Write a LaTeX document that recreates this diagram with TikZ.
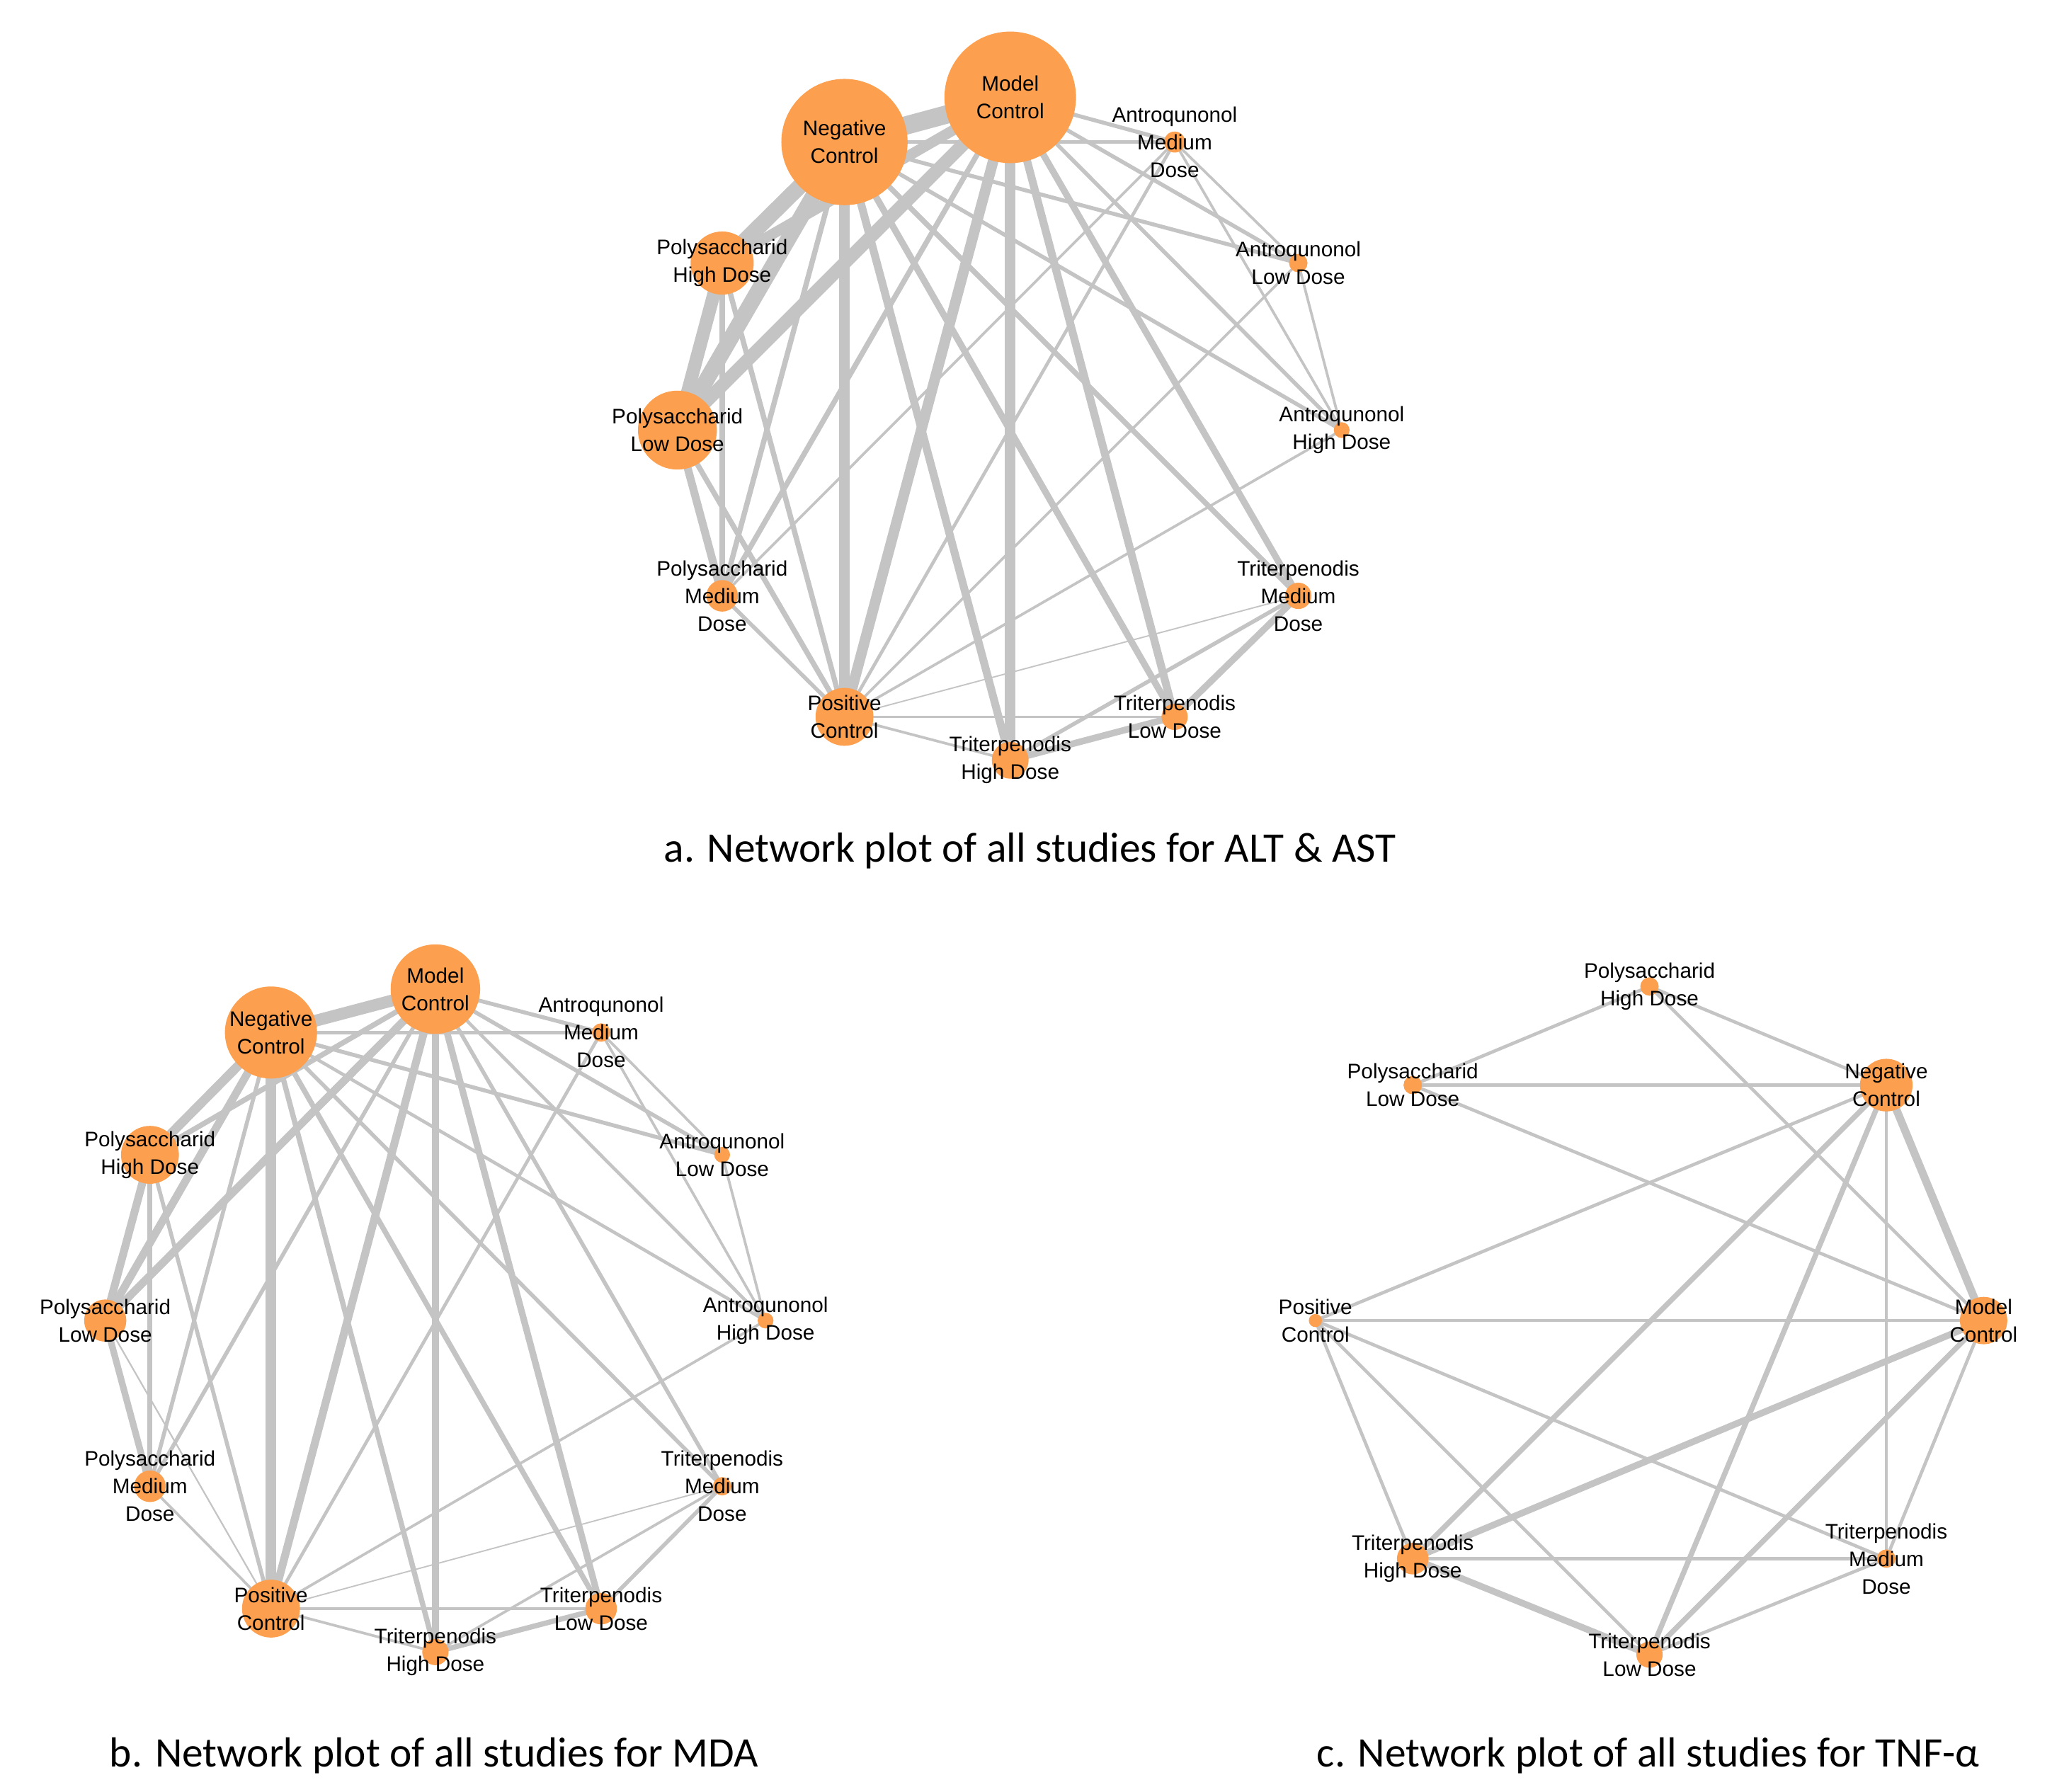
\documentclass[tikz,border=0pt]{standalone}
\usepackage{fontspec}
\setmainfont{Liberation Sans}
\newfontfamily\capf{Carlito}
\definecolor{edg}{RGB}{196,196,196}
\definecolor{org}{RGB}{252,160,80}
\newcommand\E[3]{\draw[edg,line width=#3pt] (#1) -- (#2);}
\begin{document}
\begin{tikzpicture}[x=1pt,y=-1pt,
  dot/.style={circle,fill=org,inner sep=0pt,minimum size=#1pt},
  lab/.style={align=center,font=\fontsize{16}{21}\selectfont,text=black},
  capt/.style={font=\capf\fontsize{32}{36}\selectfont}]
\useasboundingbox[fill=white] (0,0) rectangle (1560,1362);
% ---------- plot a ----------
\foreach \n/\x/\y in {NC/642/108,MC/768/74,AMD/893/108,ALD/987/200,AHD/1020/327,TMD/987/453,TLD/893/545,THD/768/578,PC/642/545,PMD/549/453,PLD/515/327,PHD/549/200}
  \coordinate (a\n) at (\x,\y);
\E{aNC}{aMC}{14}\E{aNC}{aPHD}{12}\E{aNC}{aPLD}{12}\E{aMC}{aPHD}{8}\E{aMC}{aPLD}{10}
\E{aPHD}{aPLD}{10}\E{aNC}{aPC}{8}\E{aMC}{aPC}{8}\E{aMC}{aTHD}{8}\E{aNC}{aTHD}{6}
\E{aNC}{aTLD}{5}\E{aMC}{aTLD}{6}\E{aMC}{aTMD}{5}\E{aNC}{aTMD}{4}\E{aNC}{aAMD}{3}
\E{aMC}{aAMD}{3}\E{aNC}{aALD}{3}\E{aMC}{aALD}{3}\E{aNC}{aAHD}{3}\E{aMC}{aAHD}{3}
\E{aNC}{aPMD}{4}\E{aMC}{aPMD}{4}\E{aPLD}{aPMD}{6}\E{aPHD}{aPMD}{4}\E{aPLD}{aPC}{4}
\E{aPHD}{aPC}{4}\E{aPMD}{aPC}{3}\E{aAMD}{aPC}{2.5}\E{aALD}{aPC}{2}\E{aAHD}{aPC}{2}
\E{aTMD}{aPC}{1}\E{aTLD}{aPC}{2}\E{aTHD}{aPC}{2}\E{aTHD}{aTLD}{5}\E{aTLD}{aTMD}{5}
\E{aTHD}{aTMD}{3}\E{aAMD}{aALD}{2}\E{aALD}{aAHD}{2}\E{aAMD}{aAHD}{2}\E{aAMD}{aPMD}{2}
\foreach \n/\s in {NC/96,MC/100,AMD/16,ALD/14,AHD/12,TMD/20,TLD/20,THD/28,PC/44,PMD/24,PLD/60,PHD/48}
  \node[dot=\s] (na\n) at (a\n) {};
\node[lab] (la1) at (aNC) {Negative\\Control};
\node[lab] (la2) at (aMC) {Model\\Control};
\node[lab] (la3) at (aAMD) {Antroqunonol\\Medium\\Dose};
\node[lab] (la4) at (aALD) {Antroqunonol\\Low Dose};
\node[lab] (la5) at (aAHD) {Antroqunonol\\High Dose};
\node[lab] (la6) at (aTMD) {Triterpenodis\\Medium\\Dose};
\node[lab] (la7) at (aTLD) {Triterpenodis\\Low Dose};
\node[lab] (la8) at (aTHD) {Triterpenodis\\High Dose};
\node[lab] (la9) at (aPC) {Positive\\Control};
\node[lab] (la10) at (aPMD) {Polysaccharid\\Medium\\Dose};
\node[lab] (la11) at (aPLD) {Polysaccharid\\Low Dose};
\node[lab] (la12) at (aPHD) {Polysaccharid\\High Dose};
\node[capt] (ca) at (783,647) {a. Network plot of all studies for ALT \& AST};
% ---------- plot b ----------
\foreach \n/\x/\y in {NC/206/785,MC/331/752,AMD/457/785,ALD/549/878,AHD/582/1004,TMD/549/1130,TLD/457/1223,THD/331/1256,PC/206/1223,PMD/114/1130,PLD/80/1004,PHD/114/878}
  \coordinate (b\n) at (\x,\y);
\E{bNC}{bMC}{9}\E{bNC}{bPHD}{7}\E{bNC}{bPLD}{6}\E{bMC}{bPHD}{4}\E{bMC}{bPLD}{6}
\E{bPHD}{bPLD}{6}\E{bNC}{bPC}{8}\E{bMC}{bPC}{6}\E{bMC}{bTHD}{5}\E{bNC}{bTHD}{4}
\E{bNC}{bTLD}{4}\E{bMC}{bTLD}{5}\E{bMC}{bTMD}{3}\E{bNC}{bTMD}{3}\E{bNC}{bAMD}{3}
\E{bMC}{bAMD}{3}\E{bNC}{bALD}{3}\E{bMC}{bALD}{3}\E{bNC}{bAHD}{2.5}\E{bMC}{bAHD}{2.5}
\E{bNC}{bPMD}{3}\E{bMC}{bPMD}{3}\E{bPLD}{bPMD}{5}\E{bPHD}{bPMD}{4}\E{bPLD}{bPC}{1.2}
\E{bPHD}{bPC}{3}\E{bPMD}{bPC}{2}\E{bAMD}{bPC}{2.5}\E{bAHD}{bPC}{2}
\E{bTMD}{bPC}{1}\E{bTLD}{bPC}{2}\E{bTHD}{bPC}{2}\E{bTHD}{bTLD}{4}\E{bTLD}{bTMD}{3}
\E{bTHD}{bTMD}{2}\E{bAMD}{bALD}{2}\E{bALD}{bAHD}{2}\E{bAMD}{bAHD}{2}
\foreach \n/\s in {NC/70,MC/68,AMD/14,ALD/12,AHD/12,TMD/14,TLD/24,THD/20,PC/44,PMD/24,PLD/32,PHD/44}
  \node[dot=\s] (nb\n) at (b\n) {};
\node[lab] (lb1) at (bNC) {Negative\\Control};
\node[lab] (lb2) at (bMC) {Model\\Control};
\node[lab] (lb3) at (bAMD) {Antroqunonol\\Medium\\Dose};
\node[lab] (lb4) at (bALD) {Antroqunonol\\Low Dose};
\node[lab] (lb5) at (bAHD) {Antroqunonol\\High Dose};
\node[lab] (lb6) at (bTMD) {Triterpenodis\\Medium\\Dose};
\node[lab] (lb7) at (bTLD) {Triterpenodis\\Low Dose};
\node[lab] (lb8) at (bTHD) {Triterpenodis\\High Dose};
\node[lab] (lb9) at (bPC) {Positive\\Control};
\node[lab] (lb10) at (bPMD) {Polysaccharid\\Medium\\Dose};
\node[lab] (lb11) at (bPLD) {Polysaccharid\\Low Dose};
\node[lab] (lb12) at (bPHD) {Polysaccharid\\High Dose};
\node[capt] (cb) at (330,1335) {b. Network plot of all studies for MDA};
% ---------- plot c ----------
\foreach \n/\x/\y in {PHD/1254/750,NC/1434/825,MC/1508/1004,TMD/1434/1185,TLD/1254/1258,THD/1074/1185,PC/1000/1004,PLD/1074/825}
  \coordinate (c\n) at (\x,\y);
\E{cPHD}{cNC}{2.5}\E{cPHD}{cPLD}{2.5}\E{cPHD}{cMC}{2.5}\E{cPLD}{cNC}{2.5}\E{cPLD}{cMC}{2.5}
\E{cNC}{cMC}{6}\E{cNC}{cPC}{2.5}\E{cNC}{cTHD}{4}\E{cNC}{cTLD}{4}\E{cNC}{cTMD}{2.5}
\E{cMC}{cPC}{2.5}\E{cMC}{cTHD}{5}\E{cMC}{cTLD}{4}\E{cMC}{cTMD}{2.5}\E{cPC}{cTHD}{2.5}
\E{cPC}{cTLD}{2.5}\E{cPC}{cTMD}{2.5}\E{cTHD}{cTMD}{2.5}\E{cTHD}{cTLD}{5}\E{cTLD}{cTMD}{2.5}
\foreach \n/\s in {PHD/14,NC/40,MC/36,TMD/14,TLD/20,THD/24,PC/10,PLD/14}
  \node[dot=\s] (nc\n) at (c\n) {};
\node[lab] (lc1) at (cPHD) {Polysaccharid\\High Dose};
\node[lab] (lc2) at (cNC) {Negative\\Control};
\node[lab] (lc3) at (cMC) {Model\\Control};
\node[lab] (lc4) at (cTMD) {Triterpenodis\\Medium\\Dose};
\node[lab] (lc5) at (cTLD) {Triterpenodis\\Low Dose};
\node[lab] (lc6) at (cTHD) {Triterpenodis\\High Dose};
\node[lab] (lc7) at (cPC) {Positive\\Control};
\node[lab] (lc8) at (cPLD) {Polysaccharid\\Low Dose};
\node[capt] (cc) at (1253,1335) {c. Network plot of all studies for TNF-α};
\end{tikzpicture}
\end{document}
